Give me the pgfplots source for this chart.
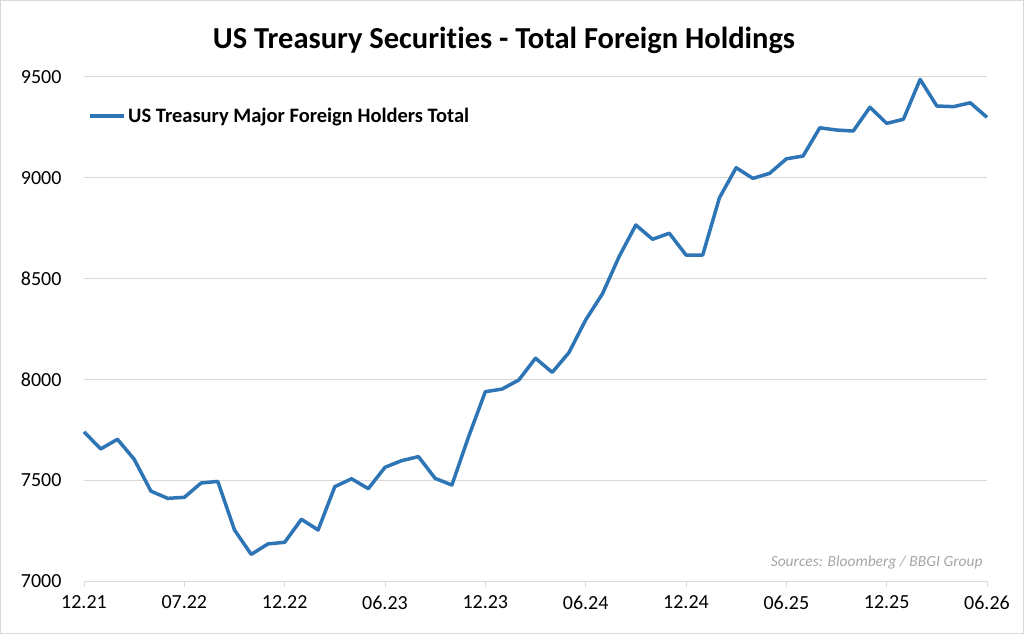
\documentclass[border=0pt]{standalone}
\usepackage{pgfplots}
\pgfplotsset{compat=1.18}
\usepackage{fontspec}
\setmainfont{Carlito}[Ligatures=NoCommon]
\definecolor{xlblue}{RGB}{46,117,182}
\definecolor{gridc}{RGB}{217,217,217}
\definecolor{srcc}{RGB}{166,166,166}
\pgfplotstableread{
i v
0 7740
1 7655
2 7703
3 7604
4 7446
5 7410
6 7415
7 7486
8 7494
9 7253
10 7132
11 7184
12 7192
13 7306
14 7253
15 7468
16 7507
17 7458
18 7564
19 7597
20 7617
21 7509
22 7476
23 7716
24 7939
25 7952
26 7997
27 8105
28 8035
29 8133
30 8295
31 8424
32 8609
33 8766
34 8695
35 8725
36 8617
37 8617
38 8901
39 9050
40 8997
41 9022
42 9094
43 9108
44 9248
45 9237
46 9232
47 9350
48 9270
49 9290
50 9488
51 9356
52 9353
53 9372
54 9300
}\datatable
\begin{document}
\begin{tikzpicture}
\path[use as bounding box] (0pt,0pt) rectangle (1024pt,634pt);
\draw[gridc, line width=1pt, fill=white] (0.5pt,0.5pt) rectangle (1023.5pt,633.5pt);
\node[font=\fontsize{30.5}{34}\selectfont\bfseries, anchor=base] at (504pt,585.5pt) {US Treasury Securities - Total Foreign Holdings};
\node[font=\fontsize{15.5}{18}\selectfont\itshape, text=srcc, anchor=east] at (986pt,72pt) {Sources: Bloomberg / BBGI Group};
\begin{axis}[
  at={(84pt,53pt)}, anchor=south west,
  scale only axis, width=903pt, height=504pt,
  xmin=0, xmax=54, ymin=7000, ymax=9500,
  axis x line*=bottom, axis y line*=left,
  y axis line style={draw=none},
  x axis line style={gridc, line width=1pt},
  xtick={0,6,...,54},
  xticklabels={12.21,07.22,12.22,06.23,12.23,06.24,12.24,06.25,12.25,06.26},
  ytick={7000,7500,...,9500},
  ytick style={draw=none},
  xtick style={gridc, line width=1pt},
  tick align=outside, major tick length=6pt,
  ymajorgrids, major grid style={gridc, line width=1pt},
  tick label style={font=\fontsize{20}{22}\selectfont, /pgf/number format/assume math mode=true},
  yticklabel style={/pgf/number format/1000 sep={}, xshift=-13pt},
  xticklabel style={yshift=-5pt},
  legend style={at={(0.005,0.923)}, anchor=west, draw=none, fill=none, font=\fontsize{20.5}{22}\selectfont\bfseries, inner sep=0pt},
  legend cell align=left,
  legend image code/.code={\draw[xlblue, line width=3.5pt] (0pt,0pt) -- (34pt,0pt);},
  clip=false,
]
\addplot[xlblue, line width=3.5pt, line join=round] table[x=i, y=v] {\datatable};
\addlegendentry{US Treasury Major Foreign Holders Total}
\end{axis}
\end{tikzpicture}
\end{document}
